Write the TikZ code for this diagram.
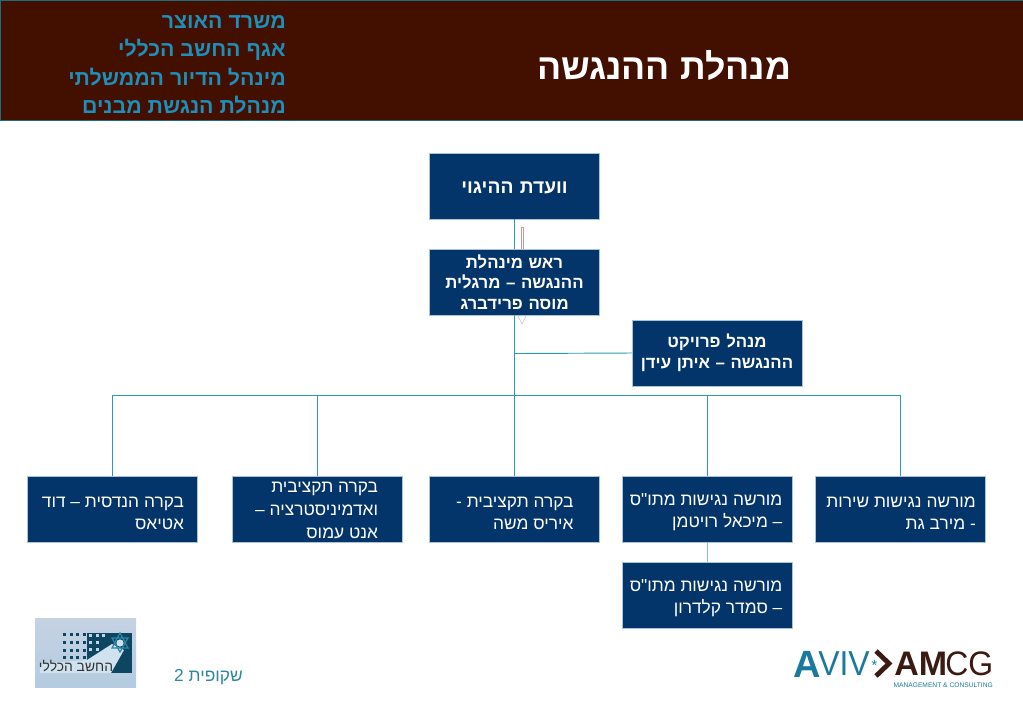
\documentclass[tikz,border=0pt]{standalone}
\usepackage{graphicx}
\usepackage{fontspec}
\setmainfont{Liberation Sans}
\newfontfamily\hebfont[Script=Hebrew]{Liberation Sans}
\TeXXeTstate=1
\usetikzlibrary{arrows.meta,calc}
\definecolor{hdr}{HTML}{431000}
\definecolor{hdrtxt}{HTML}{1E8FBB}
\definecolor{boxfill}{HTML}{03356A}
\definecolor{boxedge}{HTML}{A9C4D6}
\definecolor{wire}{HTML}{2A9AB5}
\definecolor{wirelight}{HTML}{7CC3D8}
\definecolor{pageno}{HTML}{2C8A9C}
\definecolor{brownlogo}{HTML}{3A1A12}
\definecolor{bluelogo}{HTML}{1A7A9E}
\definecolor{logobgtop}{HTML}{C5D3E3}
\definecolor{logobgbot}{HTML}{B4CBE0}
\definecolor{logodark}{HTML}{0E4560}
\definecolor{logobeam}{HTML}{CFE2EE}
\definecolor{logostar}{HTML}{2C86A8}
\newcommand{\rl}[1]{\beginR #1\endR}
\newcommand{\rlk}[1]{\beginR #1\endR\kern1.5pt}
\newcommand{\rlw}[1]{\beginR #1\endR\kern2.75pt}
\newcommand{\fs}[2]{\fontsize{#1}{#2}\selectfont}
\newcommand{\lift}[1]{\rule{0pt}{#1}}
\tikzset{
  orgbox/.style={draw=boxedge,line width=0.5pt,fill=boxfill,text=white,minimum height=49.5pt,inner sep=0pt,outer sep=0pt,font=\hebfont},
  headbox/.style={orgbox,font=\hebfont\bfseries\fs{12.6}{15.5},align=center,text width=120pt,minimum width=127.5pt},
  staffbox/.style={orgbox,font=\hebfont\fs{13}{16.5},align=flush right,text width=116pt,minimum width=127.5pt},
  wideinset/.style={orgbox,font=\hebfont\fs{13}{17.2},align=flush right,text width=97pt,minimum width=127.5pt},
  wirel/.style={draw=wire,line width=0.7pt},
  hdrline/.style={anchor=base east,text=hdrtxt,font=\hebfont\bfseries\fs{16}{18},inner sep=0pt}
}
\begin{document}
\begin{tikzpicture}[x=0.75pt,y=-0.75pt]
\useasboundingbox (0,0) rectangle (1023,708);
\fill[white] (0,0) rectangle (1023,708);
% header
\draw[fill=hdr,draw=wire!70!black,line width=0.5pt] (0.3,0.3) rectangle (1023,120);
\node[anchor=center,text=white,font=\hebfont\bfseries\fs{26.8}{30},inner sep=0pt] (title) at (664,65) {\rl{מנהלת ההנגשה}};
\node[hdrline] (h1) at (286,28) {\rl{משרד האוצר}};
\node[hdrline] (h2) at (286,56) {\rl{אגף החשב הכללי}};
\node[hdrline] (h3) at (286,85) {\rl{מינהל הדיור הממשלתי}};
\node[hdrline] (h4) at (286,113) {\rl{מנהלת הנגשת מבנים}};
% boxes
\node[headbox,font=\hebfont\bfseries\fs{14.4}{17}] (steer) at (514.5,186) {\lift{11pt}\rl{וועדת ההיגוי}};
\node[headbox] (chief) at (514.5,282) {\rl{ראש מינהלת}\\\rl{ההנגשה – מרגלית}\\\rl{מוסה פרידברג}};
\node[headbox] (pm) at (717,353) {\rl{מנהל פרויקט}\\\rl{ההנגשה – איתן עידן}};
\node[staffbox] (sherut) at (900.5,509) {\lift{14pt}\rlk{מורשה נגישות שירות}\\\rlk{- מירב גת}};
\node[staffbox] (michal) at (707,509) {\lift{14pt}\rlk{מורשה נגישות מתו"ס}\\\rlk{– מיכאל רויטמן}};
\node[staffbox,text width=88.5pt] (iris) at (514.5,509) {\lift{14pt}\rl{בקרה תקציבית -}\\\rl{איריס משה}};
\node[wideinset] (anat) at (317,509) {\lift{10.5pt}\rlw{בקרה תקציבית}\\\rlw{ואדמיניסטרציה –}\\\rlw{אנט עמוס}};
\node[staffbox,text width=108pt] (david) at (112,509) {\lift{14pt}\rl{בקרה הנדסית – דוד}\\\rl{אטיאס}};
\node[staffbox] (samadar) at (707,595) {\lift{14pt}\rlk{מורשה נגישות מתו"ס}\\\rlk{– סמדר קלדרון}};
% connectors
\coordinate (busm) at (514.5,395);
\coordinate (busl) at (112,395);
\coordinate (busr) at (900.5,395);
\coordinate (pmj) at (514.5,353.5);
\draw[wirel] (steer.south) -- (chief.north);
\draw[wirel] (chief.south) -- (busm);
\draw[wirel] (pm.west) -- (pmj);
\draw[wirel] (busl) -- (busr);
\draw[wirel] (busl) -- (david.north);
\draw[wirel] (anat.north) -- (anat.north |- busm);
\draw[wirel] (busm) -- (iris.north);
\draw[wirel] (michal.north) -- (michal.north |- busm);
\draw[wirel] (busr) -- (sherut.north);
\draw[wirel,draw=wirelight] (michal.south) -- (samadar.north);
% faint red connector
\coordinate (fa) at (522,227);
\coordinate (fb) at (522,248.5);
\draw[draw=red!40!gray!60,line width=0.35pt] ($(fa)+(-1.2,0)$) -- ($(fb)+(-1.2,0)$) ($(fa)+(1.2,0)$) -- ($(fb)+(1.2,0)$) ($(fa)+(-1.2,0)$) -- ($(fa)+(1.2,0)$);
\draw[draw=gray!50,line width=0.35pt,fill=white] (518,316) -- (526,316) -- (522,324) -- cycle;
% slide number
\node[anchor=base east,text=pageno,font=\hebfont\fs{13}{15},inner sep=0pt] (slide) at (243,681) {\rl{שקופית 2}};
% left logo
\shade[top color=logobgtop,bottom color=logobgbot] (35,618) rectangle (136,687);
\fill[logodark] (87,633) rectangle (132,673);
\fill[logobeam] (112,644) -- (124,650) -- (111,673) -- (40,673) -- (40,664) -- (87,660) -- cycle;
\foreach \xx in {63,69.5,76,82.5} \foreach \yy in {633,641,649,656} \fill[logodark] (\xx,\yy) rectangle ++(3.2,3.2);
\foreach \xx in {89,95.5} \foreach \yy in {634,641,648} \fill[logobgtop] (\xx,\yy) rectangle ++(3.2,3.2);
\fill[logobgtop] (102,634) rectangle ++(3.2,3.2);
\draw[logostar,line width=0.9pt] (120,633) -- (128,648) -- (112,648) -- cycle (120,652) -- (128,638) -- (112,638) -- cycle;
\fill[logobeam] (120,643) circle (3.6);
\node[anchor=center,text=black!80,font=\hebfont\fs{10.4}{12},inner sep=0pt] (logotxt) at (76,666) {\rl{החשב הכללי}};
% right logo
\node[anchor=west,text=bluelogo,font=\bfseries\fs{28.5}{29},inner sep=0pt] (avA) at (793,664) {A};
\node[anchor=west,text=bluelogo,font=\fs{26}{27},inner sep=0pt] (avB) at (818,664) {\scalebox{0.92}[1]{VIV}};
\node[text=bluelogo,font=\fs{11}{12},inner sep=0pt] (star) at (874.5,665) {*};
\draw[brownlogo,line width=3.6pt,miter limit=4] (876,651) -- (889,663.5) -- (876,676);
\node[anchor=west,text=brownlogo,font=\bfseries\fs{25.5}{26},inner sep=0pt] (amA) at (894,664) {AM};
\node[anchor=west,text=brownlogo,font=\fs{25.5}{26},inner sep=0pt] (amB) at (945,664) {\scalebox{0.94}[1]{CG}};
\node[anchor=east,text=bluelogo,font=\fs{5}{5.5},inner sep=0pt] (mc) at (993,685.5) {MANAGEMENT \& CONSULTING};
\end{tikzpicture}
\end{document}
